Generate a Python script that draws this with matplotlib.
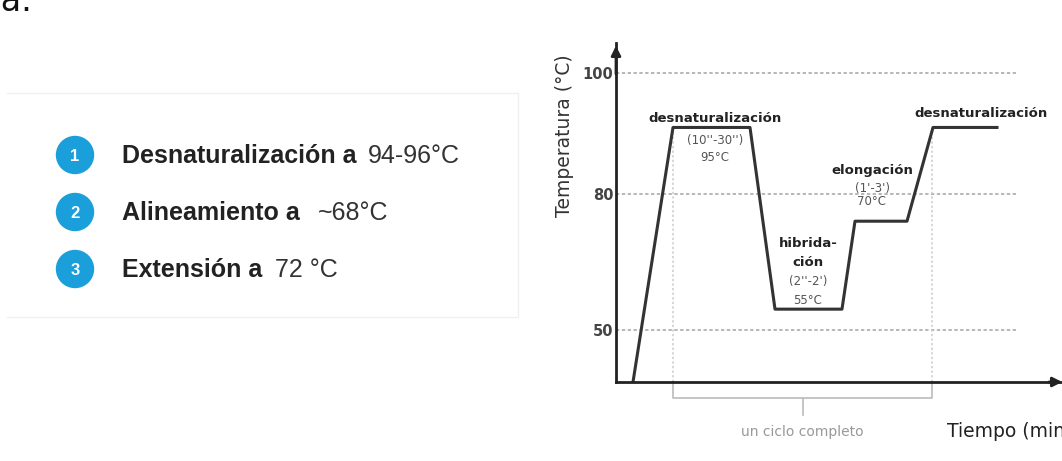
import numpy as np
import matplotlib
matplotlib.use("Agg")
import matplotlib.pyplot as plt
from matplotlib.patches import Circle

# Left panel: PCR steps
steps = ["1", "2", "3"]
step_names = ["Desnaturalización a", "Alineamiento a", "Extensión a"]
step_temps = ["94-96°C", "~68°C", "72 °C"]

# Right panel: thermal profile (schematic)
time = [1.7, 5.7, 13.4, 15.9, 22.6, 23.9, 29.1, 31.7, 38.1]
temp = [38.5, 91, 91, 54.6, 54.6, 74, 74, 91, 91]
ytick_vals = [50, 80, 100]
cycle_start, cycle_end = 5.7, 31.6

# the temperature axis of the figure is not linear, map it piecewise
t_knots = [38.5, 50, 80, 100, 106]
h_knots = [0, 52, 188, 309, 339]
def fwd(t):
    return np.interp(t, t_knots, h_knots)
def inv(h):
    return np.interp(h, h_knots, t_knots)

W, H = 1062, 461
fig = plt.figure(figsize=(W / 100, H / 100), dpi=100)

# chart axes
ax = fig.add_axes([616 / W, 79 / H, (W - 616) / W, 339 / H])
ax.set_facecolor("none")
ax.set_yscale("function", functions=(fwd, inv))
ax.set_xlim(0, (W - 616) / 10)
ax.set_ylim(38.5, 106)
for s in ["top", "right"]:
    ax.spines[s].set_visible(False)
for s in ["left", "bottom"]:
    ax.spines[s].set_linewidth(2)
    ax.spines[s].set_color("#222222")
ax.set_xticks([])
ax.set_yticks(ytick_vals)
ax.set_yticklabels([str(v) for v in ytick_vals])
ax.set_yticks([], minor=True)
ax.tick_params(axis="y", length=0, pad=2, labelsize=10.5, labelcolor="#444444")
for t in ax.get_yticklabels():
    t.set_fontweight("bold")

ax.annotate("", xy=(0, 1.0), xytext=(0, 0.9), xycoords="axes fraction",
            arrowprops=dict(arrowstyle="-|>", color="#222222", lw=2, mutation_scale=14),
            annotation_clip=False)
ax.annotate("", xy=(44.9, 38.5), xytext=(43, 38.5), xycoords="data",
            arrowprops=dict(arrowstyle="-|>", color="#222222", lw=2, mutation_scale=14),
            annotation_clip=False)

ax.hlines(ytick_vals, 0, 40.1, colors="#aaaaaa", linestyles=(0, (2, 1.5)), lw=1.2)
ax.vlines([cycle_start, cycle_end], 38.5, temp[1], colors="#cccccc",
          linestyles=(0, (1.5, 1.5)), lw=1.1)
ax.plot(time, temp, color="#333333", lw=2.2, solid_joinstyle="round")

# bracket for one cycle
tr = ax.get_xaxis_transform()
mid = (cycle_start + cycle_end) / 2
ax.plot([cycle_start, cycle_start, cycle_end, cycle_end], [0, -0.047, -0.047, 0],
        transform=tr, color="#bbbbbb", lw=1.2, clip_on=False)
ax.plot([mid, mid], [-0.047, -0.096], transform=tr, color="#bbbbbb", lw=1.2, clip_on=False)

# overlay in pixel coordinates for texts and markers
ov = fig.add_axes([0, 0, 1, 1])
ov.set_facecolor("none")
ov.set_xlim(0, W)
ov.set_ylim(H, 0)
ov.axis("off")

fig.text(-13 / W, (H - 11) / H, "ra.", fontsize=24, color="#111111", va="baseline")

# faint frame of the list panel
ov.plot([7, 518, 518, 7], [93, 93, 317, 317], color="#f0f0f0", lw=1)

ys = [155, 212, 269]
temp_x = [368, 318, 275]
for n, name, t, y, tx in zip(steps, step_names, step_temps, ys, temp_x):
    ov.add_patch(Circle((75, y), 18.5, color="#1a9fdb"))
    ov.text(75, y + 1, n, color="white", fontsize=12, fontweight="bold",
            ha="center", va="center", family="Liberation Sans")
    ov.text(122, y + 1, name, color="#222222", fontsize=18, fontweight="bold",
            ha="left", va="center", family="Liberation Sans")
    ov.text(tx, y + 1, t, color="#333333", fontsize=18,
            ha="left", va="center", family="Liberation Sans")

ov.text(564, 136, "Temperatura (°C)", rotation=90, fontsize=13.5, color="#333333",
        ha="center", va="center")

lab = dict(ha="center", va="center", fontsize=9.5, fontweight="bold", color="#222222")
sub = dict(ha="center", va="center", fontsize=8.5, color="#555555")
ov.text(715, 118, "desnaturalización", **lab)
ov.text(715, 140, "(10''-30'')", **sub)
ov.text(715, 157, "95°C", **sub)
ov.text(981, 113, "desnaturalización", **lab)
ov.text(872, 170, "elongación", **lab)
ov.text(872, 188, "(1'-3')", **sub)
ov.text(872, 201, "70°C", **sub)
ov.text(808, 243, "hibrida-", **lab)
ov.text(808, 262, "ción", **lab)
ov.text(808, 281, "(2''-2')", **sub)
ov.text(808, 300, "55°C", **sub)
ov.text(802, 432, "un ciclo completo", ha="center", va="center", fontsize=10, color="#999999")
ov.text(947, 431, "Tiempo (min)", ha="left", va="center", fontsize=13.5, color="#222222")

fig.savefig("out.png", dpi=100)
